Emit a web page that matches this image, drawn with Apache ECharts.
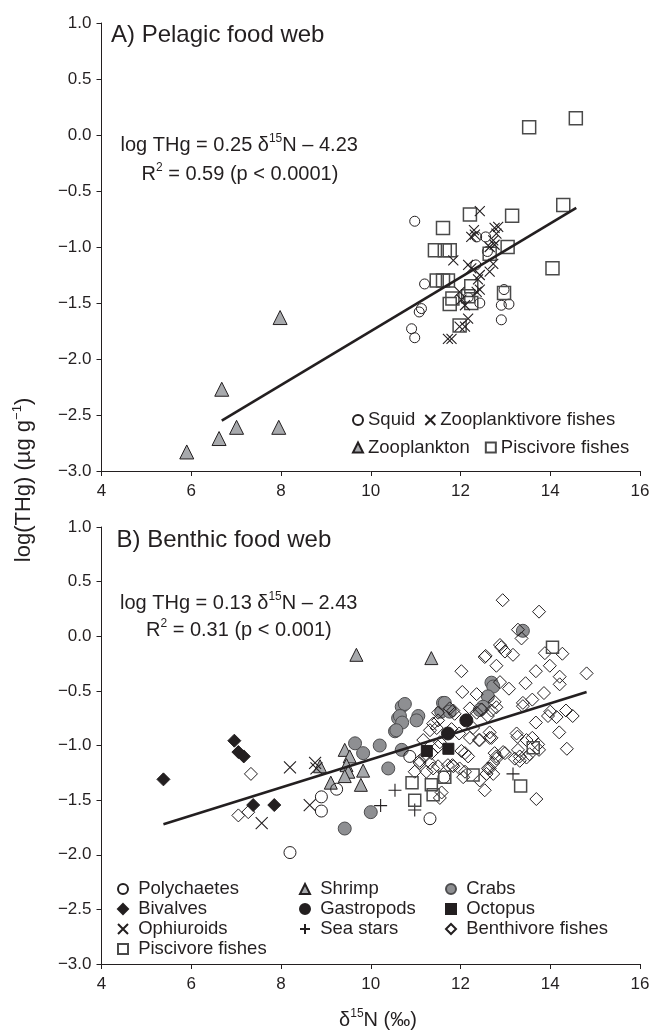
<!DOCTYPE html>
<html>
<head>
<meta charset="utf-8">
<script src="https://cdn.jsdelivr.net/npm/echarts@6/dist/echarts.min.js"></script>
<style>
html,body{margin:0;padding:0;background:#fff;}
#chart{width:666px;height:1033px;}
</style>
</head>
<body>
<div id="chart"></div>
<script>
// ---------- Axis ticks ----------
var xTicks = [4, 6, 8, 10, 12, 14, 16];
var yTicks = [-3.0, -2.5, -2.0, -1.5, -1.0, -0.5, 0.0, 0.5, 1.0];

// ---------- A) Pelagic food web ----------
var squid = [[10.98,-0.77],[11.2,-1.33],[11.13,-1.55],[11.08,-1.58],[10.91,-1.73],[10.98,-1.81],[12.36,-0.91],[12.56,-0.91],[12.6,-1.04],[12.34,-1.16],[12.97,-1.38],[12.91,-1.52],[13.08,-1.51],[12.91,-1.65],[12.43,-1.50],[12.17,-1.45]];
var zooplanktivore = [[12.43,-0.68],[12.3,-0.85],[12.24,-0.91],[12.32,-0.89],[12.76,-0.83],[12.84,-0.82],[12.8,-0.88],[12.73,-0.94],[12.76,-0.98],[12.65,-1.0],[11.84,-1.12],[12.17,-1.16],[12.24,-1.19],[12.73,-1.15],[12.65,-1.22],[12.43,-1.25],[12.39,-1.29],[12.43,-1.38],[12.36,-1.40],[11.98,-1.40],[12.02,-1.47],[12.1,-1.52],[12.17,-1.64],[12.1,-1.71],[11.98,-1.71],[11.72,-1.82],[11.8,-1.82]];
var zooplankton = [[5.9,-2.83],[6.62,-2.71],[6.68,-2.27],[7.01,-2.61],[7.95,-2.61],[7.98,-1.63]];
var piscivorePelagic = [[13.53,0.07],[14.57,0.15],[14.29,-0.625],[14.05,-1.19],[12.21,-0.71],[13.15,-0.72],[11.61,-0.83],[11.43,-1.03],[11.65,-1.03],[11.76,-1.03],[13.05,-1.0],[12.65,-1.06],[11.47,-1.30],[11.61,-1.30],[11.72,-1.30],[12.24,-1.35],[11.82,-1.46],[11.76,-1.51],[12.17,-1.44],[12.24,-1.50],[12.97,-1.41],[11.98,-1.70]];
var pelagicFit = [[6.68,-2.55],[14.58,-0.65]];

// ---------- B) Benthic food web ----------
var polychaetes = [[8.9,-1.47],[8.9,-1.6],[9.24,-1.4],[8.2,-1.98],[10.87,-1.10],[11.32,-1.67],[11.63,-1.29]];
var bivalves = [[5.38,-1.31],[6.96,-0.956],[7.05,-1.06],[7.17,-1.10],[7.38,-1.545],[7.85,-1.545]];
var ophiuroids = [[8.2,-1.2],[7.57,-1.71],[8.64,-1.545],[8.76,-1.16],[8.79,-1.21]];
var shrimp = [[9.68,-0.17],[11.35,-0.2],[9.42,-1.04],[9.53,-1.10],[9.46,-1.18],[9.5,-1.24],[9.42,-1.28],[9.83,-1.23],[9.11,-1.34],[9.78,-1.36],[8.87,-1.19]];
var crabs = [[9.65,-0.98],[9.83,-1.07],[10.2,-1.0],[10.39,-1.21],[10.0,-1.61],[9.42,-1.76],[10.54,-0.87],[10.61,-0.75],[10.69,-0.645],[10.76,-0.62],[10.65,-0.73],[10.7,-0.79],[11.06,-0.73],[10.69,-1.04],[11.57,-0.69],[11.61,-0.61],[13.39,0.05],[12.69,-0.425],[12.73,-0.46],[12.61,-0.55],[12.5,-0.645],[12.43,-0.675],[11.65,-0.61],[11.76,-0.69],[11.02,-0.77],[10.57,-0.86]];
var gastropods = [[11.72,-0.89],[12.13,-0.77]];
var octopus = [[11.25,-1.05],[11.73,-1.03]];
var seaStars = [[10.22,-1.55],[10.54,-1.41],[10.98,-1.59],[13.17,-1.26]];
var benthivore = [[7.33,-1.26],[7.05,-1.64],[7.27,-1.61],[12.94,0.33],[13.75,0.225],[13.36,-0.02],[13.28,0.06],[12.88,-0.08],[12.99,-0.14],[13.17,-0.17],[12.56,-0.18],[12.8,-0.27],[12.02,-0.32],[13.88,-0.155],[14.27,-0.16],[13.99,-0.27],[13.68,-0.32],[14.21,-0.37],[14.21,-0.44],[14.81,-0.34],[12.88,-0.42],[13.08,-0.48],[13.45,-0.43],[13.86,-0.52],[13.6,-0.58],[12.04,-0.51],[12.36,-0.53],[12.76,-0.60],[13.39,-0.61],[14.0,-0.69],[14.14,-0.74],[14.35,-0.68],[14.5,-0.73],[13.68,-0.79],[14.2,-0.88],[14.37,-1.03],[13.25,-0.89],[13.27,-0.92],[12.65,-0.88],[12.65,-0.93],[12.41,-0.95],[12.21,-0.93],[13.6,-0.93],[13.75,-1.04],[13.54,-1.08],[13.28,-1.04],[12.99,-1.07],[13.21,-1.12],[12.8,-1.1],[12.73,-1.16],[12.02,-1.05],[12.1,-1.07],[12.17,-1.10],[11.82,-1.18],[11.98,-1.21],[12.61,-1.21],[12.73,-1.26],[11.39,-0.80],[11.5,-0.77],[11.32,-0.86],[11.76,-0.66],[11.87,-0.71],[12.21,-0.66],[12.36,-0.70],[11.17,-0.95],[11.5,-1.01],[11.35,-1.07],[11.5,-1.19],[11.09,-1.14],[12.54,-0.19],[12.91,-0.10],[12.76,-1.07],[12.65,-1.21],[12.58,-1.26],[12.54,-1.41],[13.32,-1.10],[13.69,-1.49],[11.5,-0.70],[11.47,-0.84],[11.54,-0.97],[11.84,-0.68],[11.8,-0.85],[11.97,-0.89],[12.47,-0.67],[12.61,-0.73],[12.69,-0.68],[12.8,-0.65],[12.28,-0.84],[12.43,-0.95],[12.69,-0.93],[12.95,-1.06],[13.47,-0.95],[13.32,-1.14],[13.47,-1.11],[13.73,-0.99],[13.95,-0.73],[13.39,-0.64],[11.2,-1.10],[11.09,-1.16],[11.32,-1.16],[11.24,-1.24],[10.98,-1.24],[11.39,-1.21],[11.72,-1.18],[11.84,-1.19],[12.1,-1.24],[12.06,-1.29],[12.43,-1.32],[12.8,-1.12],[11.54,-1.48],[11.58,-1.43]];
var piscivoreBenthic = [[10.92,-1.34],[10.98,-1.5],[11.39,-1.45],[11.35,-1.36],[11.65,-1.29],[12.28,-1.27],[13.34,-1.37],[13.62,-1.02],[14.05,-0.1]];
var benthicFit = [[5.38,-1.72],[14.81,-0.51]];

// ---------- Styles ----------
var DARK = '#231f20';
var FONT = '"Liberation Sans", Arial, Helvetica, sans-serif';
var CROSS = 'path://M0,0L10,10M10,0L0,10';
var PLUS = 'path://M5,0L5,10M0,5L10,5';

function xAxisCfg(gi){
  return {gridIndex:gi, type:'value', min:4, max:16, interval:2,
    axisLine:{show:true, onZero:false, lineStyle:{color:DARK, width:1}},
    axisTick:{show:true, length:5, lineStyle:{color:DARK}},
    axisLabel:{color:DARK, fontSize:17, fontFamily:FONT, margin:12},
    splitLine:{show:false}};
}
function yAxisCfg(gi){
  return {gridIndex:gi, type:'value', min:-3, max:1, interval:0.5,
    axisLine:{show:true, onZero:false, lineStyle:{color:DARK, width:1}},
    axisTick:{show:true, length:5, lineStyle:{color:DARK}},
    axisLabel:{color:DARK, fontSize:17, fontFamily:FONT, margin:10,
      formatter:function(v){ return (v<0?'\u2212':'') + Math.abs(v).toFixed(1); }},
    splitLine:{show:false}};
}
function sc(name, data, gi, symbol, size, fill, stroke, bw, z){
  return {name:name, type:'scatter', xAxisIndex:gi, yAxisIndex:gi, data:data,
    symbol:symbol, symbolSize:size, z:z||2,
    itemStyle:{color:fill, borderColor:stroke, borderWidth:bw, opacity:1},
    emphasis:{disabled:true}, silent:true};
}
function fit(data, gi){
  return {type:'line', xAxisIndex:gi, yAxisIndex:gi, data:data, showSymbol:false, z:5,
    lineStyle:{color:DARK, width:2.6}, silent:true};
}

var chart = echarts.init(document.getElementById('chart'));
var legendText = {color:DARK, fontSize:18.5, fontFamily:FONT, lineHeight:20};
var supRich = {sup:{fontSize:12, fontFamily:FONT, fill:DARK, color:DARK, verticalAlign:'top', lineHeight:12}};
var supRichBig = {sup:{fontSize:13, fontFamily:FONT, fill:DARK, color:DARK, verticalAlign:'top', lineHeight:13}};

chart.setOption({
  animation:false,
  backgroundColor:'#fff',
  grid:[
    {left:101.5, right:26, top:23, height:448},
    {left:101.5, right:26, top:527, height:437}
  ],
  xAxis:[xAxisCfg(0), xAxisCfg(1)],
  yAxis:[yAxisCfg(0), yAxisCfg(1)],
  legend:[
    {data:['Squid','Zooplanktivore fishes'], left:352, top:410, orient:'horizontal', padding:0,
      itemWidth:10, itemHeight:10, itemGap:9, selectedMode:false, textStyle:legendText},
    {data:['Zooplankton','Piscivore fishes'], left:352, top:437.5, orient:'horizontal', padding:0,
      itemWidth:10, itemHeight:10, itemGap:15, selectedMode:false, textStyle:legendText},
    {data:['Polychaetes','Bivalves','Ophiuroids','Piscivore fishes'], left:117, top:879, orient:'vertical', padding:0,
      itemWidth:10, itemHeight:10, itemGap:0, selectedMode:false, textStyle:legendText,
      formatter:function(n){return ' '+n;}},
    {data:['Shrimp','Gastropods','Sea stars'], left:299, top:879, orient:'vertical', padding:0,
      itemWidth:10, itemHeight:10, itemGap:0, selectedMode:false, textStyle:legendText,
      formatter:function(n){return ' '+n;}},
    {data:['Crabs','Octopus','Benthivore fishes'], left:445, top:879, orient:'vertical', padding:0,
      itemWidth:10, itemHeight:10, itemGap:0, selectedMode:false, textStyle:legendText,
      formatter:function(n){return ' '+n;}}
  ],
  series:[
    sc('Zooplankton', zooplankton, 0, 'triangle', 14, '#a7a9ac', DARK, 1),
    sc('Squid', squid, 0, 'circle', 10, 'transparent', DARK, 1),
    sc('Piscivore fishes', piscivorePelagic, 0, 'rect', 13, 'transparent', '#4a4a4a', 1.5),
    sc('Zooplanktivore fishes', zooplanktivore, 0, CROSS, 10, 'transparent', DARK, 1.1),
    fit(pelagicFit, 0),

    sc('Crabs', crabs, 1, 'circle', 13, '#8e8f92', '#4d4d4f', 1),
    sc('Shrimp', shrimp, 1, 'triangle', 13, '#a7a9ac', DARK, 1),
    sc('Polychaetes', polychaetes, 1, 'circle', 12, 'transparent', DARK, 1),
    sc('Bivalves', bivalves, 1, 'diamond', 13, DARK, DARK, 1),
    sc('Ophiuroids', ophiuroids, 1, CROSS, 12, 'transparent', DARK, 1.1),
    sc('Sea stars', seaStars, 1, PLUS, 13, 'transparent', DARK, 1.1),
    sc('Benthivore fishes', benthivore, 1, 'diamond', 13, 'transparent', DARK, 1),
    sc('Gastropods', gastropods, 1, 'circle', 13, DARK, DARK, 1),
    sc('Octopus', octopus, 1, 'rect', 11, DARK, DARK, 1),
    sc('Piscivore fishes', piscivoreBenthic, 1, 'rect', 12, 'transparent', '#4a4a4a', 1.5),
    fit(benthicFit, 1)
  ],
  graphic:[
    {type:'text', left:111, top:23, silent:true,
      style:{text:'A) Pelagic food web', font:'24px '+FONT, fill:DARK}},
    {type:'text', left:120.5, top:133, silent:true,
      style:{text:'log THg = 0.25 \u03b4{sup|15}N \u2013 4.23', font:'20px '+FONT, fill:DARK, lineHeight:24, rich:supRich}},
    {type:'text', left:141.5, top:162, silent:true,
      style:{text:'R{sup|2} = 0.59 (p < 0.0001)', font:'20px '+FONT, fill:DARK, lineHeight:24, rich:supRich}},
    {type:'text', left:116.5, top:528.5, silent:true,
      style:{text:'B) Benthic food web', font:'24px '+FONT, fill:DARK}},
    {type:'text', left:120, top:591, silent:true,
      style:{text:'log THg = 0.13 \u03b4{sup|15}N \u2013 2.43', font:'20px '+FONT, fill:DARK, lineHeight:24, rich:supRich}},
    {type:'text', left:146, top:618, silent:true,
      style:{text:'R{sup|2} = 0.31 (p < 0.001)', font:'20px '+FONT, fill:DARK, lineHeight:24, rich:supRich}},
    {type:'text', x:24, y:480, rotation:Math.PI/2, silent:true,
      style:{text:'log(THg) (\u00b5g g{sup|\u22121})', font:'22px '+FONT, fill:DARK, lineHeight:26,
        textAlign:'center', textVerticalAlign:'middle', rich:supRichBig}},
    {type:'text', x:378, y:1020, silent:true,
      style:{text:'\u03b4{sup|15}N (\u2030)', font:'20px '+FONT, fill:DARK, lineHeight:24,
        textAlign:'center', textVerticalAlign:'middle', rich:supRich}}
  ]
});
</script>
</body>
</html>
